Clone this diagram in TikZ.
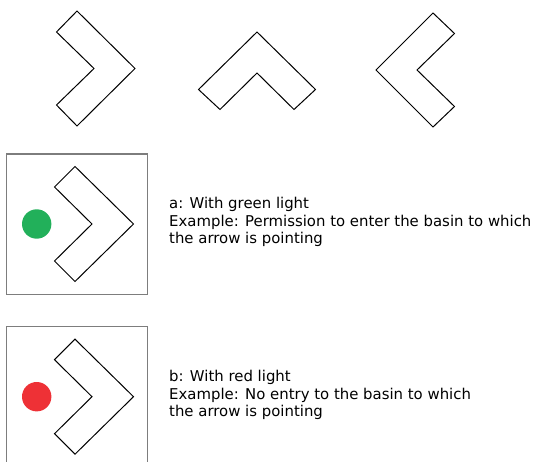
\documentclass[tikz,border=0pt]{standalone}
\usepackage{fontspec}
\setmainfont{DejaVu Sans}
\definecolor{lightgreen}{RGB}{34,176,90}
\definecolor{lightred}{RGB}{238,49,54}
\definecolor{boxgray}{RGB}{125,125,125}
\begin{document}
\begin{tikzpicture}[x=1pt,y=-1pt,
  chev/.style={draw=black,line width=1pt,line join=miter},
  frame/.style={draw=boxgray,line width=1.3pt},
  lamp/.style={circle,minimum size=29.4pt,inner sep=0pt},
  caption/.style={anchor=base west,inner sep=0pt,font=\fontsize{14.9pt}{17.5pt}\selectfont}]
\useasboundingbox (0,0) rectangle (536,462);
% top row chevrons
\draw[chev] (135,68.5) -- (77,11) -- (56.5,32) -- (94,68.5) -- (56.5,105) -- (77,126) -- cycle;
\draw[chev] (257,32) -- (315.5,89.5) -- (294,109.5) -- (257,73) -- (220,109.5) -- (198.5,89.5) -- cycle;
\draw[chev] (376,70) -- (433,13) -- (454.5,33.5) -- (417,70) -- (454.5,106.5) -- (433,127) -- cycle;
% box a
\draw[frame] (6.7,154) rectangle (147.7,294.3);
\draw[chev] (133.5,224) -- (75,166.5) -- (54.5,187) -- (92,224) -- (54.5,261) -- (75,281.5) -- cycle;
\node[lamp,fill=lightgreen] (ga) at (36.7,224) {};
\node[caption] (ta) at (169,209) {\vtop{\hbox{a: With green light}\hbox{Example: Permission to enter the basin to which}\hbox{the arrow is pointing}}};
% box b
\draw[frame] (6.7,326.5) rectangle (147.7,470);
\draw[chev] (133.5,396.7) -- (75,339.2) -- (54.5,359.7) -- (92,396.7) -- (54.5,433.7) -- (75,454.2) -- cycle;
\node[lamp,fill=lightred] (rb) at (36.7,396.7) {};
\node[caption] (tb) at (169,382) {\vtop{\hbox{b: With red light}\hbox{Example: No entry to the basin to which}\hbox{the arrow is pointing}}};
\end{tikzpicture}
\end{document}
